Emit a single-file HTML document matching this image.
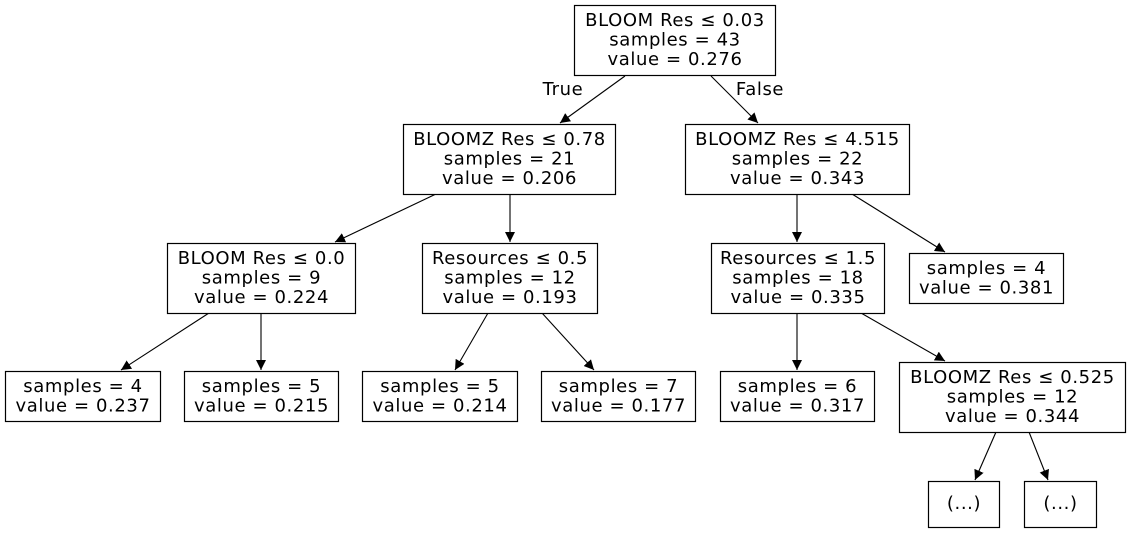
<!DOCTYPE html>
<html><head><meta charset="utf-8"><style>
html,body{margin:0;padding:0;background:#fff;}
svg{display:block;}
text{font-family:"DejaVu Sans","Liberation Sans",sans-serif;font-size:18px;letter-spacing:0.6px;fill:#000;text-anchor:middle;}
rect{fill:#fff;stroke:#000;stroke-width:1.2;}
line{stroke:#000;stroke-width:1.1;}
</style></head><body>
<svg width="1130" height="533" viewBox="0 0 1130 533" xmlns="http://www.w3.org/2000/svg">
<defs><marker id="a" viewBox="0 0 10 10" refX="10" refY="5" markerWidth="10" markerHeight="10" markerUnits="userSpaceOnUse" orient="auto"><path d="M0,0 L10,5 L0,10 z" fill="#000"/></marker></defs>
<g marker-end="url(#a)">
<line x1="625" y1="76" x2="560" y2="123"/>
<line x1="711" y1="76" x2="758" y2="123"/>
<line x1="436" y1="194" x2="335" y2="242"/>
<line x1="510" y1="194" x2="510" y2="242"/>
<line x1="797" y1="194" x2="797" y2="242"/>
<line x1="852" y1="194" x2="945" y2="252"/>
<line x1="209" y1="313" x2="121" y2="370"/>
<line x1="261" y1="313" x2="261" y2="370"/>
<line x1="488" y1="313" x2="455" y2="370"/>
<line x1="542" y1="313" x2="594" y2="370"/>
<line x1="797" y1="313" x2="797" y2="370"/>
<line x1="861" y1="313" x2="945" y2="361"/>
<line x1="996" y1="432" x2="975" y2="480"/>
<line x1="1029" y1="432" x2="1048" y2="480"/>
</g>
<text x="563" y="95">True</text>
<text x="760" y="95">False</text>

<rect x="574.5" y="5.5" width="201" height="70"/>
<text x="675" y="26">BLOOM Res ≤ 0.03</text><text x="675" y="45.5">samples = 43</text><text x="675" y="65">value = 0.276</text>

<rect x="403.5" y="124.5" width="212" height="70"/>
<text x="509.5" y="145">BLOOMZ Res ≤ 0.78</text><text x="509.5" y="164.5">samples = 21</text><text x="509.5" y="184">value = 0.206</text>

<rect x="685.5" y="124.5" width="224" height="70"/>
<text x="797.5" y="145">BLOOMZ Res ≤ 4.515</text><text x="797.5" y="164.5">samples = 22</text><text x="797.5" y="184">value = 0.343</text>

<rect x="167.5" y="243.5" width="188" height="70"/>
<text x="261.5" y="264">BLOOM Res ≤ 0.0</text><text x="261.5" y="283.5">samples = 9</text><text x="261.5" y="303">value = 0.224</text>

<rect x="422.5" y="243.5" width="175" height="70"/>
<text x="510" y="264">Resources ≤ 0.5</text><text x="510" y="283.5">samples = 12</text><text x="510" y="303">value = 0.193</text>

<rect x="711.5" y="243.5" width="173" height="70"/>
<text x="798" y="264">Resources ≤ 1.5</text><text x="798" y="283.5">samples = 18</text><text x="798" y="303">value = 0.335</text>

<rect x="909.5" y="253.5" width="154" height="50"/>
<text x="986.5" y="274">samples = 4</text><text x="986.5" y="293.5">value = 0.381</text>

<rect x="5.5" y="371.5" width="155" height="50"/>
<text x="83" y="392">samples = 4</text><text x="83" y="411.5">value = 0.237</text>
<rect x="184.5" y="371.5" width="154" height="50"/>
<text x="261.5" y="392">samples = 5</text><text x="261.5" y="411.5">value = 0.215</text>
<rect x="362.5" y="371.5" width="155" height="50"/>
<text x="440" y="392">samples = 5</text><text x="440" y="411.5">value = 0.214</text>
<rect x="541.5" y="371.5" width="154" height="50"/>
<text x="618.5" y="392">samples = 7</text><text x="618.5" y="411.5">value = 0.177</text>
<rect x="720.5" y="371.5" width="154" height="50"/>
<text x="797.5" y="392">samples = 6</text><text x="797.5" y="411.5">value = 0.317</text>

<rect x="899.5" y="362.5" width="226" height="70"/>
<text x="1012.5" y="383">BLOOMZ Res ≤ 0.525</text><text x="1012.5" y="402.5">samples = 12</text><text x="1012.5" y="422">value = 0.344</text>

<rect x="928.5" y="481.5" width="71" height="46"/>
<text x="964" y="509">(...)</text>
<rect x="1024.5" y="481.5" width="72" height="46"/>
<text x="1060.5" y="509">(...)</text>
</svg>
</body></html>
